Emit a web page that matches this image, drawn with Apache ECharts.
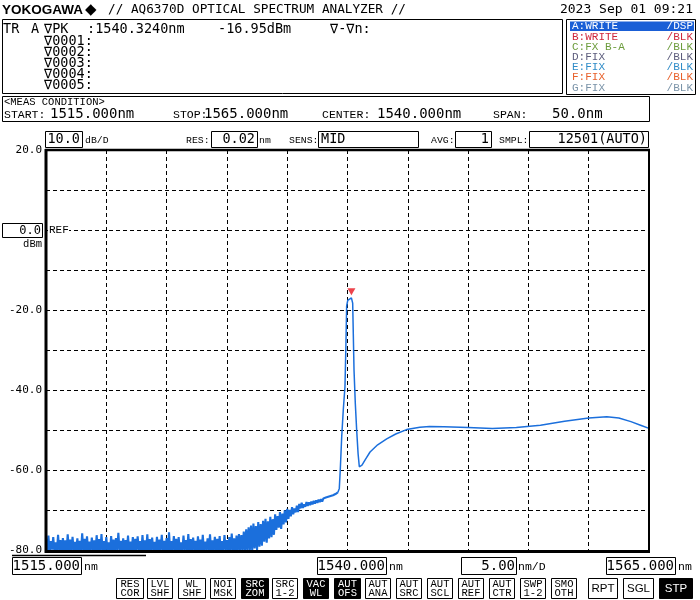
<!DOCTYPE html>
<html><head><meta charset="utf-8">
<script src="https://cdn.jsdelivr.net/npm/echarts@6/dist/echarts.min.js"></script>
<style>html,body{margin:0;padding:0;background:#fff}#c{width:700px;height:600px}</style>
</head><body><div id="c"></div>
<script>
// ---------- DATA ----------
const wlStart = 1515.0;      // nm, first sample of the sampled noise segment
const wlStep = 0.1;          // nm per sample
const noiseDb = [
-77.3,-80.4,-76.4,-80.6,-77.8,-79.9,-76.8,-80.3,-78.1,-80.5,
-76.2,-80.2,-77.5,-80.7,-77.0,-80.1,-77.6,-80.5,-76.1,-80.3,
-77.4,-80.6,-76.7,-80.0,-78.0,-80.4,-77.1,-80.2,-77.7,-80.6,
-75.8,-80.1,-77.2,-80.5,-76.6,-80.3,-77.9,-80.0,-76.9,-80.4,
-77.6,-80.6,-76.3,-80.2,-77.3,-80.5,-76.0,-80.3,-77.8,-80.1,
-76.8,-80.4,-78.1,-80.6,-76.5,-80.2,-77.4,-80.5,-77.0,-80.0,
-75.7,-80.3,-77.7,-80.6,-77.1,-80.1,-77.5,-80.4,-76.4,-80.5,
-77.9,-80.2,-76.8,-80.6,-77.2,-80.3,-76.6,-80.0,-77.8,-80.4,
-76.3,-80.5,-77.6,-80.2,-76.1,-80.6,-77.3,-80.3,-76.9,-80.1,
-78.0,-80.4,-76.7,-80.6,-77.4,-80.0,-76.2,-80.5,-77.7,-80.2,
-77.0,-80.6,-75.6,-80.3,-77.8,-80.1,-76.5,-80.4,-77.2,-80.6,
-76.8,-80.2,-78.1,-80.5,-76.4,-80.0,-77.5,-80.3,-76.0,-80.6,
-77.3,-80.4,-76.9,-80.1,-77.7,-80.5,-76.6,-80.2,-77.4,-80.6,
-76.2,-80.3,-77.9,-80.0,-77.1,-80.4,-76.1,-80.6,-77.6,-80.1,
-76.7,-80.5,-77.2,-80.2,-76.5,-80.6,-77.8,-80.3,-76.3,-80.0,
-77.5,-80.4,-76.8,-80.5,-75.9,-80.1,-77.1,-80.6,-76.4,-80.2,
-76.0,-80.4,-76.3,-80.0,-75.4,-80.5,-74.8,-80.1,-74.3,-80.3,
-73.9,-80.3,-73.4,-79.6,-74.0,-80.0,-73.0,-79.2,-73.5,-78.9,
-72.7,-77.9,-72.2,-78.2,-72.8,-77.1,-71.7,-76.8,-72.3,-76.2,
-71.1,-75.0,-71.5,-74.4,-70.5,-74.7,-70.9,-73.6,-70.1,-73.1,
-69.7,-72.2,-70.0,-71.6,-69.3,-71.1,-69.6,-70.6,-68.9,-70.5,
-68.5,-69.6,-68.2,-69.5,-68.6,-69.2,-68.0,-69.0,-68.1,-68.8,
-67.9,-68.6,-67.7,-68.4,-67.6,-68.2,-67.4,-68.0,-67.3,-67.9,
-67.1,-67.6,-66.9,-67.4,-66.7,-67.2,-66.5,-67.0,-66.3,-66.8,
-66.0,-66.3,-65.6
];
const peakWl = [1539.32,1539.40,1539.52,1539.65,1539.79,1539.86,1539.93,1540.02,1540.15,1540.324,1540.43,1540.54,1540.65,1540.76,1540.88,1540.98,1541.05,1541.2,1541.5,1541.87,1542.5,1543.25,1544.0,1544.9,1546.0,1546.8,1548.0,1550.0,1552.0,1554.0,1556.0,1558.0,1560.0,1561.5,1562.5,1563.5,1564.3,1565.0];
const peakDb = [-64.6,-60.0,-51.7,-45.0,-39.2,-30.0,-19.0,-17.6,-17.3,-16.95,-18.3,-35.0,-43.5,-50.0,-56.0,-59.2,-59.5,-58.8,-57.3,-55.5,-53.7,-52.2,-51.0,-49.9,-49.3,-49.1,-49.2,-49.4,-49.6,-49.4,-48.8,-47.8,-47.0,-46.7,-47.0,-47.9,-48.8,-49.6];
const markerWl = 1540.3240, markerDb = -16.95;
const xMin = 1515, xMax = 1565, xDiv = 5;
const yMin = -80, yMax = 20, yDiv = 10;
const yLabelValues = [20, -20, -40, -60, -80];

// ---------- build trace ----------
const noiseTrace = noiseDb.map((v, i) => [+(wlStart + i * wlStep).toFixed(3), v]);
const smoothTrace = [noiseTrace[noiseTrace.length - 1]];
peakWl.forEach((w, i) => smoothTrace.push([w, peakDb[i]]));

// ---------- graphics ----------
const MONO = '"DejaVu Sans Mono", monospace';
const THIN = '"Liberation Mono", monospace';
const g = [];
function txt(x, y, s, size, fam, opt) {
  opt = opt || {};
  const al = opt.align || 'left';
  g.push({type:'text', x:x, y:y, z:200, silent:true,
    style:{text:s, font:(opt.bold?'bold ':'') + size + 'px ' + fam, fill:opt.color || '#000',
      textAlign:al, align:al, textVerticalAlign:'middle', verticalAlign:'middle'}});
}
function rect(x, y, w, h, opt) {
  opt = opt || {};
  g.push({type:'rect', z:opt.z || 150, silent:true, shape:{x:x, y:y, width:w, height:h},
    style:{fill:opt.fill || 'none', stroke:opt.stroke === undefined ? '#000' : opt.stroke, lineWidth:opt.lw || 1}});
}
function line(x1, y1, x2, y2, lw) {
  g.push({type:'line', z:160, silent:true, shape:{x1:x1, y1:y1, x2:x2, y2:y2}, style:{stroke:'#000', lineWidth:lw || 1}});
}

// header
txt(2, 10, 'YOKOGAWA', 13.5, '"Liberation Sans", Arial', {bold:true});
txt(85, 10, '◆', 15, '"DejaVu Sans"');
txt(108, 10, '// AQ6370D OPTICAL SPECTRUM ANALYZER //', 12.7, MONO);
txt(693, 10, '2023 Sep 01 09:21', 13, MONO, {align:'right'});

// marker box
rect(2.5, 19.5, 560, 74);
txt(3, 29, 'TR', 13.5, MONO);
txt(31, 29, 'A', 13.5, MONO);
txt(44, 29, '∇PK', 13.5, MONO);
txt(87, 29, ':1540.3240nm', 13.5, MONO);
txt(218, 29, '-16.95dBm', 13.5, MONO);
txt(330, 29, '∇-∇n:', 13.5, MONO);
['∇0001:','∇0002:','∇0003:','∇0004:','∇0005:'].forEach((s, i) => txt(44, 41 + i * 11, s, 13.5, MONO));

// trace box
rect(566.5, 19.5, 129, 75);
rect(570, 21.5, 124, 9.5, {fill:'#1a5fd6', stroke:'none'});
const trRows = [['A:WRITE','/DSP','#ffffff'],['B:WRITE','/BLK','#d0283c'],['C:FX B-A','/BLK','#6c9c3c'],
  ['D:FIX','/BLK','#5c5c7c'],['E:FIX','/BLK','#2f8cc8'],['F:FIX','/BLK','#e8602a'],['G:FIX','/BLK','#7a93a8']];
trRows.forEach((r, i) => {
  txt(572, 26.5 + i * 10.2, r[0], 11, THIN, {color:r[2]});
  txt(693, 26.5 + i * 10.2, r[1], 11, THIN, {color:r[2], align:'right'});
});

// meas condition
rect(2.5, 96.5, 647, 25);
txt(4, 102, '<MEAS CONDITION>', 10.5, THIN);
txt(4, 115, 'START:', 11.5, THIN); txt(50, 114, '1515.000nm', 14, MONO);
txt(173, 115, 'STOP:', 11.5, THIN); txt(204, 114, '1565.000nm', 14, MONO);
txt(322, 115, 'CENTER:', 11.5, THIN); txt(377, 114, '1540.000nm', 14, MONO);
txt(493, 115, 'SPAN:', 11.5, THIN); txt(552, 114, '50.0nm', 14, MONO);

// settings row
const SM = 9.8;
rect(45.5, 131.5, 37, 16); txt(80, 139.5, '10.0', 13.5, MONO, {align:'right'}); txt(85, 140, 'dB/D', SM, THIN);
txt(186, 140, 'RES:', SM, THIN);
rect(211.5, 131.5, 46, 16); txt(255, 139.5, '0.02', 13.5, MONO, {align:'right'}); txt(259, 140, 'nm', SM, THIN);
txt(289, 140, 'SENS:', SM, THIN);
rect(318.5, 131.5, 100, 16); txt(321, 139.5, 'MID', 13.5, MONO);
txt(431, 140, 'AVG:', SM, THIN);
rect(455.5, 131.5, 36, 16); txt(489, 139.5, '1', 13.5, MONO, {align:'right'});
txt(499, 140, 'SMPL:', SM, THIN);
rect(529.5, 131.5, 119, 16); txt(647, 139.5, '12501(AUTO)', 13.5, MONO, {align:'right'});

// REF
rect(2.5, 223.5, 40, 14); txt(41, 230.5, '0.0', 12, MONO, {align:'right'});
txt(42, 244, 'dBm', 10.5, THIN, {align:'right'});
rect(48, 224, 21, 12, {fill:'#fff', stroke:'none', z:140});
txt(49, 230, 'REF', 11, THIN);

// frame
line(46, 149, 46, 553, 3);
line(45, 150, 650, 150, 2.5);
line(649, 149, 649, 553, 2);
line(45, 551.5, 650, 551.5, 3);
line(12, 555.5, 146, 555.5, 1.5);

// bottom wavelength boxes
rect(12.5, 557.5, 69, 17); txt(80, 566.5, '1515.000', 14, MONO, {align:'right'}); txt(84, 567, 'nm', 11.5, THIN);
rect(317.5, 557.5, 69, 17); txt(385, 566.5, '1540.000', 14, MONO, {align:'right'}); txt(389, 567, 'nm', 11.5, THIN);
rect(461.5, 557.5, 55, 17); txt(515, 566.5, '5.00', 14, MONO, {align:'right'}); txt(518, 567, 'nm/D', 11.5, THIN);
rect(606.5, 557.5, 69, 17); txt(674, 566.5, '1565.000', 14, MONO, {align:'right'}); txt(678, 567, 'nm', 11.5, THIN);

// buttons
const buttons = [['RES','COR',116,27,0],['LVL','SHF',147,25,0],['WL','SHF',178,27,0],['NOI','MSK',210,25,0],
  ['SRC','ZOM',241,27,1],['SRC','1-2',272,25,0],['VAC','WL',303,25,1],['AUT','OFS',334,26,1],
  ['AUT','ANA',365,25,0],['AUT','SRC',396,25,0],['AUT','SCL',427,25,0],['AUT','REF',458,25,0],
  ['AUT','CTR',489,25,0],['SWP','1-2',520,25,0],['SMO','OTH',551,25,0]];
buttons.forEach(b => {
  rect(b[2] + 0.5, 578.5, b[3], 20, {fill:b[4] ? '#000' : '#fff'});
  const c = b[4] ? '#fff' : '#000';
  txt(b[2] + b[3] / 2 + 0.5, 584, b[0], 10.5, THIN, {align:'center', color:c});
  txt(b[2] + b[3] / 2 + 0.5, 593.5, b[1], 10.5, THIN, {align:'center', color:c});
});
[['RPT',588,29,0],['SGL',623,30,0],['STP',659,33,1]].forEach(b => {
  rect(b[1] + 0.5, 578.5, b[2], 20, {fill:b[3] ? '#000' : '#fff'});
  txt(b[1] + b[2] / 2 + 0.5, 589, b[0], 11.5, '"Liberation Sans", Arial', {align:'center', color:b[3] ? '#fff' : '#000'});
});

// ---------- chart ----------
const chart = echarts.init(document.getElementById('c'), null, {renderer:'canvas'});
const dash = {color:'#000', type:[4, 3], width:1};
chart.setOption({
  animation:false,
  backgroundColor:'#fff',
  grid:{left:46, top:150, width:603, height:400, show:false},
  xAxis:{type:'value', min:xMin, max:xMax, interval:xDiv,
    axisLine:{show:false}, axisTick:{show:false}, axisLabel:{show:false},
    splitLine:{show:true, lineStyle:dash}},
  yAxis:{type:'value', min:yMin, max:yMax, interval:yDiv,
    axisLine:{show:false}, axisTick:{show:false},
    axisLabel:{margin:4, color:'#000', fontFamily:'DejaVu Sans Mono', fontSize:11,
      formatter:v => yLabelValues.indexOf(v) >= 0 ? v.toFixed(1) : ''},
    splitLine:{show:true, lineStyle:dash}},
  series:[
    {type:'line', data:noiseTrace, showSymbol:false, symbol:'none', clip:true,
      lineStyle:{color:'#1b6fdc', width:2.1}, z:5},
    {type:'line', data:smoothTrace, showSymbol:false, symbol:'none', clip:true,
      lineStyle:{color:'#1b6fdc', width:1.5}, z:5},
    {type:'scatter', data:[[markerWl, markerDb]], symbol:'triangle', symbolRotate:180,
      symbolSize:[8, 7], symbolOffset:[0, -6], itemStyle:{color:'#e8141e'}, z:10}
  ],
  graphic:g
});
</script></body></html>
